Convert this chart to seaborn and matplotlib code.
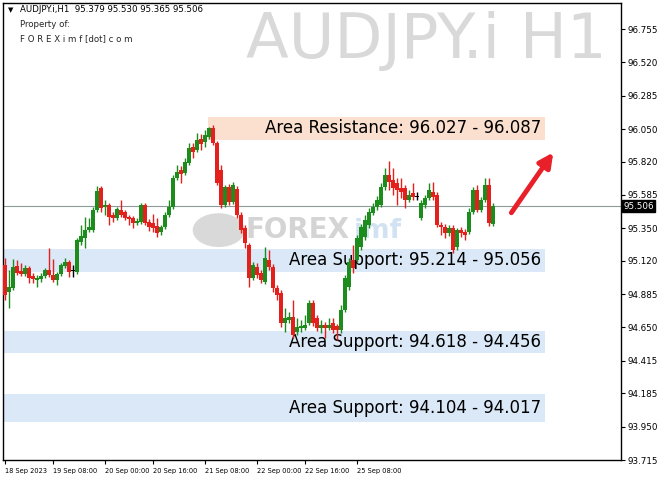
#grafico de velas AUDJPY.i H1 com zonas de suporte e resistencia

import numpy as np #numpy para as contas das velas
import pandas as pd #pandas para montar o data frame das velas
import matplotlib
matplotlib.use("Agg") #sem tela, so salva o arquivo
import matplotlib.pyplot as plt #matplot para desenhar
import matplotlib.transforms as mtransforms
from matplotlib.patches import Rectangle, Ellipse
import seaborn as sns #tema do seaborn

# dados (precos de abertura, maxima, minima e fechamento de cada vela)
aberturas = [
    95.092, 94.901, 94.930, 95.085, 95.049, 95.028, 95.071, 95.014, 94.986, 94.993,
    95.014, 95.056, 95.021, 94.986, 95.028, 95.085, 95.113, 95.049, 95.042, 95.254,
    95.282, 95.338, 95.338, 95.479, 95.635, 95.501, 95.515, 95.444, 95.423, 95.479,
    95.465, 95.430, 95.423, 95.388, 95.395, 95.515, 95.395, 95.388, 95.367, 95.324,
    95.360, 95.444, 95.501, 95.705, 95.761, 95.740, 95.811, 95.924, 95.902, 95.980,
    95.959, 95.994, 96.058, 95.952, 95.761, 95.515, 95.642, 95.536, 95.628, 95.444,
    95.353, 95.233, 95.000, 95.078, 95.035, 94.972, 95.127, 95.078, 94.930, 94.894,
    94.683, 94.704, 94.725, 94.619, 94.648, 94.648, 94.683, 94.824, 94.718, 94.648,
    94.669, 94.648, 94.683, 94.662, 94.633, 94.774, 94.937, 95.127, 95.127, 95.219,
    95.289, 95.374, 95.458, 95.501, 95.515, 95.642, 95.726, 95.691, 95.670, 95.635,
    95.635, 95.550, 95.599, 95.571, 95.423, 95.515, 95.564, 95.606, 95.585, 95.374,
    95.360, 95.317, 95.353, 95.219, 95.338, 95.324, 95.324, 95.465, 95.620, 95.479,
    95.550, 95.656, 95.379]
maximas = [
    95.141, 95.056, 95.134, 95.127, 95.106, 95.092, 95.085, 95.035, 95.021, 95.035,
    95.071, 95.212, 95.134, 95.042, 95.106, 95.141, 95.127, 95.092, 95.282, 95.374,
    95.430, 95.423, 95.501, 95.649, 95.649, 95.550, 95.529, 95.465, 95.501, 95.550,
    95.479, 95.444, 95.437, 95.423, 95.529, 95.529, 95.416, 95.451, 95.423, 95.374,
    95.465, 95.550, 95.726, 95.797, 95.790, 95.846, 95.952, 95.952, 96.022, 96.015,
    96.043, 96.065, 96.079, 95.966, 95.797, 95.656, 95.663, 95.677, 95.649, 95.465,
    95.374, 95.247, 95.113, 95.106, 95.056, 95.219, 95.197, 95.099, 94.951, 94.915,
    94.789, 94.760, 94.845, 94.718, 94.704, 94.739, 94.845, 94.845, 94.739, 94.704,
    94.690, 94.718, 94.718, 94.676, 94.810, 95.021, 95.141, 95.233, 95.303, 95.381,
    95.444, 95.494, 95.529, 95.578, 95.670, 95.776, 95.825, 95.776, 95.705, 95.705,
    95.656, 95.620, 95.670, 95.606, 95.550, 95.585, 95.670, 95.677, 95.606, 95.395,
    95.381, 95.374, 95.374, 95.353, 95.360, 95.346, 95.494, 95.642, 95.656, 95.571,
    95.705, 95.705, 95.530]
minimas = [
    94.845, 94.789, 94.915, 95.021, 95.014, 95.014, 94.965, 94.965, 94.937, 94.972,
    95.000, 95.007, 94.972, 94.951, 95.014, 95.071, 95.007, 95.007, 95.028, 95.233,
    95.212, 95.324, 95.324, 95.465, 95.465, 95.444, 95.374, 95.395, 95.409, 95.430,
    95.409, 95.374, 95.353, 95.374, 95.381, 95.374, 95.331, 95.324, 95.289, 95.303,
    95.346, 95.430, 95.487, 95.691, 95.670, 95.726, 95.797, 95.846, 95.888, 95.902,
    95.924, 95.980, 95.938, 95.656, 95.494, 95.501, 95.515, 95.522, 95.423, 95.317,
    95.212, 94.937, 94.986, 95.000, 94.965, 94.958, 95.056, 94.901, 94.845, 94.655,
    94.619, 94.683, 94.577, 94.598, 94.619, 94.633, 94.669, 94.662, 94.626, 94.612,
    94.577, 94.633, 94.612, 94.563, 94.612, 94.760, 94.915, 95.035, 95.113, 95.197,
    95.268, 95.353, 95.444, 95.479, 95.501, 95.620, 95.620, 95.585, 95.515, 95.564,
    95.494, 95.536, 95.550, 95.550, 95.409, 95.494, 95.550, 95.550, 95.360, 95.303,
    95.282, 95.296, 95.176, 95.197, 95.289, 95.268, 95.310, 95.451, 95.465, 95.465,
    95.536, 95.367, 95.365]
fechamentos = [
    94.880, 94.937, 95.078, 95.035, 95.028, 95.071, 95.000, 94.993, 95.000, 95.014,
    95.056, 95.021, 94.986, 95.028, 95.092, 95.113, 95.042, 95.049, 95.268, 95.296,
    95.338, 95.360, 95.479, 95.613, 95.494, 95.515, 95.430, 95.423, 95.487, 95.444,
    95.423, 95.416, 95.388, 95.402, 95.515, 95.388, 95.360, 95.353, 95.317, 95.360,
    95.444, 95.501, 95.705, 95.747, 95.733, 95.818, 95.917, 95.888, 95.973, 95.945,
    96.008, 96.058, 95.952, 95.670, 95.515, 95.642, 95.536, 95.656, 95.444, 95.338,
    95.247, 95.000, 95.092, 95.021, 94.986, 95.141, 95.078, 94.930, 94.880, 94.683,
    94.718, 94.725, 94.598, 94.655, 94.662, 94.669, 94.824, 94.683, 94.648, 94.669,
    94.648, 94.669, 94.633, 94.633, 94.774, 95.000, 95.113, 95.071, 95.282, 95.360,
    95.409, 95.465, 95.501, 95.550, 95.642, 95.726, 95.677, 95.635, 95.620, 95.606,
    95.550, 95.585, 95.571, 95.571, 95.529, 95.564, 95.620, 95.571, 95.374, 95.360,
    95.317, 95.353, 95.197, 95.338, 95.317, 95.303, 95.465, 95.620, 95.479, 95.550,
    95.656, 95.388, 95.506]

# zonas de suporte e resistencia
zona_texto = ['Area Resistance: 96.027 - 96.087', 'Area Support: 95.214 - 95.056',
              'Area Support: 94.618 - 94.456', 'Area Support: 94.104 - 94.017']
zona_topo = [96.135, 95.205, 94.627, 94.180]
zona_base = [95.973, 95.042, 94.471, 93.985]
zona_inicio = [50.75, -0.5, -0.5, -0.5] #indice da vela onde a caixa comeca
zona_tipo = ['res', 'sup', 'sup', 'sup']

# eixo de precos (lado direito) e datas (embaixo)
precos_eixo = [96.755, 96.520, 96.285, 96.050, 95.820, 95.585, 95.350,
               95.120, 94.885, 94.650, 94.415, 94.185, 93.950, 93.715]
datas_texto = ['18 Sep 2023', '19 Sep 08:00', '20 Sep 00:00', '20 Sep 16:00',
               '21 Sep 08:00', '22 Sep 00:00', '22 Sep 16:00', '25 Sep 08:00']
datas_vela = [0, 12, 25, 37, 50, 63, 75, 88] #indice da vela de cada data
preco_atual = 95.506

df = pd.DataFrame({'open': aberturas, 'high': maximas, 'low': minimas, 'close': fechamentos})
df['idx'] = np.arange(len(df))
df['tipo'] = np.where(df['close'] > df['open'], 'alta', np.where(df['close'] < df['open'], 'baixa', 'doji'))
cores = {'alta': '#1c8c1c', 'baixa': '#e3201c', 'doji': '#000000'}
df['cor'] = df['tipo'].map(cores)

sns.set_theme(style="white") #tema branco sem grade
plt.rcParams['font.family'] = ['DejaVu Sans']

fig = plt.figure(figsize=(6.64, 4.84), dpi=100)
ax = fig.add_axes([3/664, 24/484, 618/664, 457/484])

# caixas das zonas
for texto, topo, base, ini, tipo in zip(zona_texto, zona_topo, zona_base, zona_inicio, zona_tipo):
    cor_caixa = '#fbdfcf' if tipo == 'res' else '#dae8f7'
    ax.add_patch(Rectangle((ini, base), 135 - ini, topo - base, facecolor=cor_caixa, edgecolor='none', zorder=1))
    ax.text(134, (topo + base) / 2, texto, ha='right', va='center', fontsize=12, color='black', zorder=3)

# marcas d'agua
ax.text(0.977, 0.917, 'AUDJPY.i H1', transform=ax.transAxes, ha='right', va='center',
        fontsize=45, color='#d9d9d9', zorder=1)
ax.add_patch(Ellipse((0.349, 0.503), 0.084, 0.074, transform=ax.transAxes, facecolor='#d9d9d9',
                     edgecolor='none', zorder=1.5))
ax.text(0.392, 0.503, 'FOREX', transform=ax.transAxes, ha='left', va='center', fontsize=20,
        fontweight='bold', color='#d4d4d4', zorder=1.5)
ax.text(0.568, 0.500, 'imf', transform=ax.transAxes, ha='left', va='center', fontsize=19,
        fontweight='bold', color='#d2e2f2', zorder=1.5)

# linha do preco atual
ax.axhline(preco_atual, color='#8c9a9a', lw=0.8, zorder=2)

# velas: pavio e corpo
ax.vlines(df['idx'], df['low'], df['high'], colors=df['cor'], lw=1, zorder=4)
altura = (df['close'] - df['open']).abs().clip(lower=0.004)
base_corpo = df[['open', 'close']].min(axis=1)
ax.bar(df['idx'], altura, bottom=base_corpo, width=0.8, color=df['cor'], linewidth=0, zorder=5)

# seta vermelha
ax.annotate('', xy=(0.893, 0.678), xytext=(0.820, 0.536), xycoords='axes fraction',
            arrowprops=dict(arrowstyle='-|>,head_length=0.7,head_width=0.35', color='#e8202a', lw=3.5),
            zorder=6)

# cabecalho no canto
ax.text(0.008, 0.985, '\u25bc', transform=ax.transAxes, fontsize=5, va='center', ha='left', color='black')
ax.text(0.027, 0.985, 'AUDJPY.i,H1  95.379 95.530 95.365 95.506', transform=ax.transAxes,
        fontsize=6.2, va='center', ha='left', color='black')
ax.text(0.027, 0.954, 'Property of:', transform=ax.transAxes, fontsize=6.2, va='center', ha='left')
ax.text(0.027, 0.923, 'F O R E X i m f [dot] c o m', transform=ax.transAxes, fontsize=6.2,
        va='center', ha='left')

# rotulo do preco atual no eixo
trans = mtransforms.blended_transform_factory(ax.transAxes, ax.transData)
ax.text(1.004, preco_atual, f'{preco_atual:.3f}', transform=trans, ha='left', va='center', fontsize=6.3,
        color='white', zorder=10, clip_on=False,
        bbox=dict(boxstyle='square,pad=0.15', fc='black', ec='black'))

ax.set_xlim(-0.5, 154)
ax.set_ylim(93.717, 96.939)
ax.yaxis.tick_right()
ax.set_yticks(precos_eixo)
ax.set_yticklabels([f'{p:.3f}' for p in precos_eixo])
ax.set_xticks(datas_vela)
ax.set_xticklabels(datas_texto)
for lbl in ax.get_xticklabels():
    lbl.set_ha('left')
ax.tick_params(axis='y', right=True, left=False, direction='out', length=3, width=0.8,
               labelsize=6.3, pad=1.5, colors='black')
ax.tick_params(axis='x', bottom=True, direction='out', length=3, width=0.8, labelsize=4.8,
               pad=2.5, colors='black')
for lado in ax.spines.values():
    lado.set_color('black')
    lado.set_linewidth(1)

fig.savefig('out.png', dpi=100, facecolor='white')
